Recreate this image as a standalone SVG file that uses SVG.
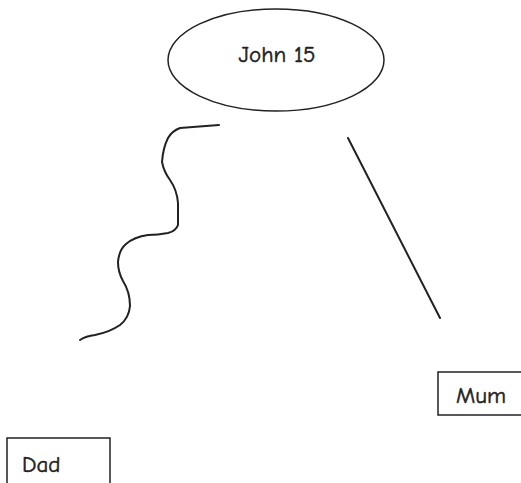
<svg xmlns="http://www.w3.org/2000/svg" width="521" height="483" viewBox="0 0 521 483">
<style>
.shape{fill:#fff;stroke:#222;stroke-width:1.5}
.conn{fill:none;stroke:#222;stroke-width:2;stroke-linecap:round;stroke-linejoin:round}
.lbl{font-family:"Comic Sans MS","Comic Neue","DejaVu Sans",sans-serif;font-size:23px;fill:#222;stroke:#222;stroke-width:0.5}
</style>
<rect width="521" height="483" fill="#fff"/>
<g id="connectors">
<path class="conn" d="M219,125 L180,128 Q172,131 168,138 Q163,148 162,162 Q164,172 170,180 Q177,190 178,203 L178,225 Q176,231 168,233 Q158,235 148,235 Q134,237 126,244 Q119,250 118,262 Q118,272 123,281 Q130,292 130,306 Q129,318 120,325 Q110,332 95,335 Q86,336 80,340"/>
<path class="conn" d="M348,138 L440,318"/>
</g>
<g id="john">
<ellipse class="shape" cx="276" cy="60" rx="108" ry="51"/>
<text class="lbl" x="277" y="62" text-anchor="middle">John 15</text>
</g>
<g id="mum">
<rect class="shape" x="438" y="372" width="90" height="43"/>
<text class="lbl" x="456" y="403">Mum</text>
</g>
<g id="dad">
<rect class="shape" x="7" y="438" width="103" height="50"/>
<text class="lbl" x="22" y="472">Dad</text>
</g>
</svg>
